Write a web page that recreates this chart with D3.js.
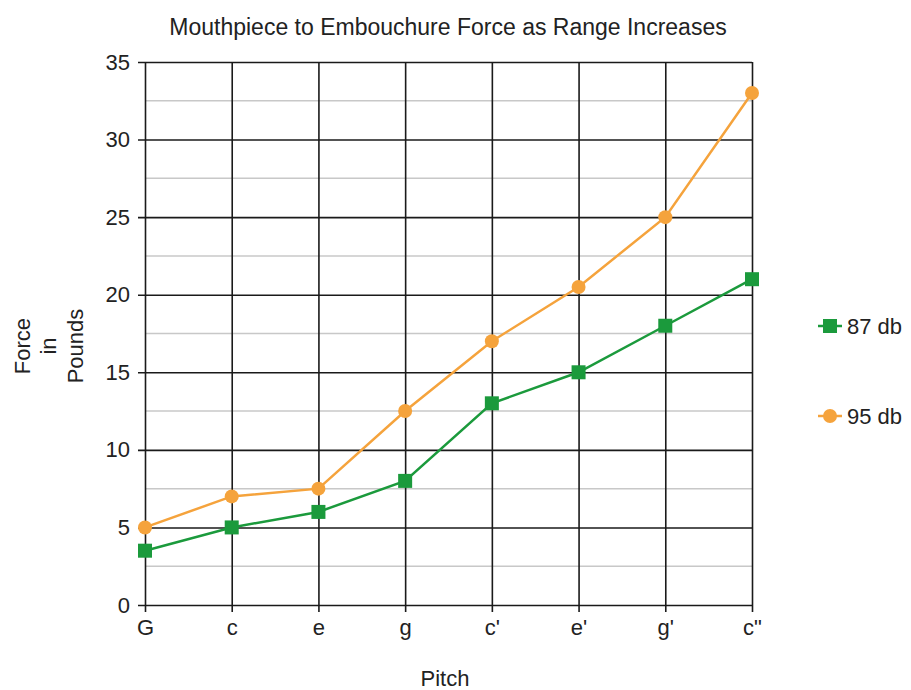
<!DOCTYPE html>
<html lang="en">
<head>
  <meta charset="UTF-8">
  <title>force chart</title>
  <script src="https://cdn.jsdelivr.net/npm/d3@7"></script>
  <style>
    body { margin: 0; background: #fff; }
    text { font-family: "Liberation Sans", Arial, sans-serif; fill: #222; }
  </style>
</head>
<body>
  <svg width="911" height="690" id="mainsvg"></svg>
  <script>
    const pitches = ['G', 'c', 'e', 'g', "c'", "e'", "g'", 'c"']
    const db87 = [3.5, 5, 6, 8, 13, 15, 18, 21]
    const db95 = [5, 7, 7.5, 12.5, 17, 20.5, 25, 33]
    const yTicks = [0, 5, 10, 15, 20, 25, 30, 35]
    const minorTicks = [2.5, 7.5, 12.5, 17.5, 22.5, 27.5, 32.5]

    const svg = d3.select('#mainsvg')
    const margin = {top: 62, left: 145}
    const innerWidth = 607
    const innerHeight = 543
    const fs = 22

    const xScale = d3.scalePoint().domain(pitches).range([0, innerWidth])
    const yScale = d3.scaleLinear().domain([0, 35]).range([innerHeight, 0])

    const g = svg.append('g').attr('transform', `translate(${margin.left},${margin.top})`)

    // light minor grid
    g.selectAll('.minor').data(minorTicks).join('line')
      .attr('x1', 0).attr('x2', innerWidth)
      .attr('y1', d => yScale(d)).attr('y2', d => yScale(d))
      .attr('stroke', '#c8c8c8').attr('stroke-width', 1.5)

    // y axis with major grid
    const yAxis = d3.axisLeft(yScale).tickValues(yTicks).tickSize(-innerWidth).tickPadding(15)
    const yg = g.append('g').call(yAxis)
    yg.attr('font-size', fs).attr('font-family', null)
    yg.select('.domain').remove()
    yg.selectAll('.tick line').attr('x1', -7).attr('x2', innerWidth).attr('stroke', '#1a1a1a').attr('stroke-width', 1.6)
    yg.selectAll('.tick text').attr('fill', '#222')

    // x axis with vertical grid
    const xAxis = d3.axisBottom(xScale).tickSize(0).tickPadding(14)
    const xg = g.append('g').attr('transform', `translate(0,${innerHeight})`).call(xAxis)
    xg.attr('font-size', fs).attr('font-family', null)
    xg.select('.domain').remove()
    xg.selectAll('.tick line').attr('y1', 7).attr('y2', -innerHeight).attr('stroke', '#1a1a1a').attr('stroke-width', 1.6)
    xg.selectAll('.tick text').attr('fill', '#222')

    const line = d3.line().x((d, i) => xScale(pitches[i])).y(d => yScale(d))

    const orange = '#f5a33c'
    const green = '#1b9a3c'

    g.append('path').datum(db95).attr('d', line)
      .attr('fill', 'none').attr('stroke', orange).attr('stroke-width', 2.5)
    g.selectAll('.c95').data(db95).join('circle')
      .attr('cx', (d, i) => xScale(pitches[i])).attr('cy', d => yScale(d))
      .attr('r', 7).attr('fill', orange)

    g.append('path').datum(db87).attr('d', line)
      .attr('fill', 'none').attr('stroke', green).attr('stroke-width', 2.5)
    g.selectAll('.s87').data(db87).join('rect')
      .attr('x', (d, i) => xScale(pitches[i]) - 7).attr('y', d => yScale(d) - 7)
      .attr('width', 14).attr('height', 14).attr('fill', green)

    // title and axis labels
    svg.append('text').text('Mouthpiece to Embouchure Force as Range Increases')
      .attr('x', 448).attr('y', 35).attr('text-anchor', 'middle').attr('font-size', 23)
    svg.append('text').text('Pitch')
      .attr('x', 445).attr('y', 686).attr('text-anchor', 'middle').attr('font-size', fs)

    const ylab = svg.append('text').attr('transform', 'translate(0,346) rotate(-90)')
      .attr('text-anchor', 'middle').attr('font-size', fs)
    ylab.append('tspan').text('Force').attr('x', 0).attr('y', 30)
    ylab.append('tspan').text('in').attr('x', 0).attr('y', 56)
    ylab.append('tspan').text('Pounds').attr('x', 0).attr('y', 83)

    // legend
    const legend = [{name: '87 db', color: green, shape: 'rect', y: 326},
                    {name: '95 db', color: orange, shape: 'circle', y: 416}]
    legend.forEach(item => {
      const lg = svg.append('g').attr('transform', `translate(830,${item.y})`)
      lg.append('line').attr('x1', -12).attr('x2', 12).attr('stroke', item.color).attr('stroke-width', 2.5)
      if (item.shape === 'rect') {
        lg.append('rect').attr('x', -7).attr('y', -7).attr('width', 14).attr('height', 14).attr('fill', item.color)
      } else {
        lg.append('circle').attr('r', 7).attr('fill', item.color)
      }
      lg.append('text').text(item.name).attr('x', 17).attr('y', 8).attr('font-size', fs)
    })
  </script>
</body>
</html>
